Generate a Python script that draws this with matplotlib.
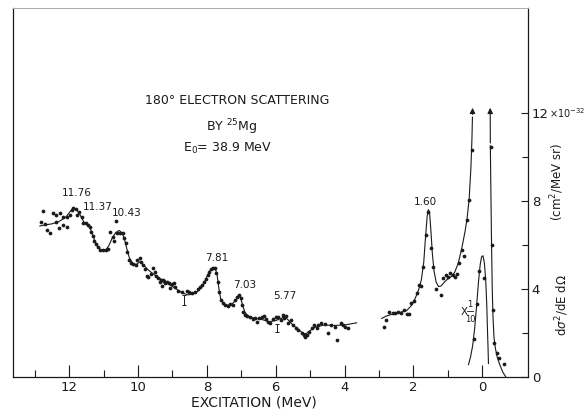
import matplotlib
matplotlib.use("Agg")
import matplotlib.pyplot as plt
from matplotlib.ticker import FixedLocator, FixedFormatter

plt.rcParams['font.family'] = ['DejaVu Sans']

# ---------------- data (E in MeV excitation, Y in 1e-32 cm^2/MeV sr) -------------
cont_E = [12.77, 12.82, 12.70, 12.64, 12.56, 12.46, 12.37, 12.39, 12.29, 12.27, 12.19, 12.17,
          12.06, 12.07, 11.98, 11.93, 11.88, 11.81, 11.78, 11.71, 11.64, 11.59, 11.51, 11.45,
          11.40, 11.37, 11.32, 11.28, 11.22, 11.16, 11.09, 11.01, 10.93, 10.87, 10.82, 10.74,
          10.70, 10.64, 10.60, 10.53, 10.45, 10.40, 10.35, 10.33, 10.26, 10.19, 10.14, 10.06,
          10.02, 9.94, 9.90, 9.85, 9.80, 9.75, 9.70, 9.63, 9.56, 9.51, 9.48, 9.41, 9.36, 9.28,
          9.22, 9.32, 9.25, 9.17, 9.29, 9.09, 9.02, 8.96, 8.93, 9.07, 8.83, 8.73, 8.59, 8.51,
          8.44, 8.35, 8.25, 8.20, 8.15, 8.09, 8.03, 7.98, 7.93, 7.88, 7.83, 7.77, 7.72, 7.67,
          7.64, 7.60, 7.54, 7.48, 7.38, 7.33, 7.25, 7.18, 7.12, 7.06, 7.02, 6.99, 6.94, 6.89,
          6.83, 6.75, 6.67, 6.60, 6.55, 6.48, 6.41, 6.34, 6.28, 6.22, 6.17, 6.07, 5.99, 5.93,
          5.86, 5.80, 5.76, 5.70, 5.64, 5.57, 5.49, 5.41, 5.35, 5.25, 5.18, 5.10, 5.15, 5.03,
          4.96, 4.89, 4.81, 4.76, 4.67, 4.57, 4.47, 4.38, 4.28, 4.21, 4.11, 4.04, 3.99, 3.89]
cont_Y = [7.53, 7.05, 6.93, 6.67, 6.55, 7.43, 7.35, 7.05, 6.75, 7.43, 7.27, 6.90,
          6.82, 7.27, 7.35, 7.58, 7.68, 7.61, 7.35, 7.50, 7.27, 7.00, 6.97, 6.90,
          6.82, 6.59, 6.40, 6.18, 6.03, 5.88, 5.76, 5.76, 5.76, 5.82, 6.58, 6.36,
          6.18, 7.08, 6.52, 6.55, 6.52, 6.29, 6.06, 5.68, 5.30, 5.18, 5.12, 5.08,
          5.30, 5.38, 5.23, 5.08, 4.88, 4.58, 4.52, 4.67, 4.93, 4.77, 4.58, 4.47, 4.32, 4.40,
          4.25, 4.40, 4.35, 4.32, 4.12, 4.25, 4.21, 4.27, 4.09, 4.02, 3.91, 3.86, 3.91, 3.86,
          3.82, 3.86, 3.97, 4.09, 4.17, 4.32, 4.43, 4.62, 4.77, 4.88, 4.93, 4.93, 4.70, 4.32,
          3.86, 3.49, 3.34, 3.26, 3.21, 3.30, 3.26, 3.49, 3.61, 3.71, 3.56, 3.26, 2.95, 2.80,
          2.76, 2.73, 2.61, 2.65, 2.50, 2.65, 2.73, 2.76, 2.61, 2.50, 2.45, 2.61, 2.70, 2.70,
          2.58, 2.80, 2.68, 2.76, 2.42, 2.58, 2.35, 2.20, 2.12, 1.97, 1.89, 1.89, 1.82, 2.05,
          2.20, 2.35, 2.20, 2.35, 2.42, 2.39, 2.00, 2.35, 2.27, 1.67, 2.42, 2.35, 2.27, 2.20]

low_E = [2.86, 2.80, 2.70, 2.60, 2.54, 2.44, 2.37, 2.27, 2.20, 2.12, 2.07, 1.98, 1.91, 1.83,
         1.78, 1.71, 1.64, 1.57, 1.50, 1.42, 1.35, 1.21, 1.13, 1.05, 0.99, 0.94, 0.86, 0.79,
         0.74, 0.67, 0.60, 0.52, 0.44, 0.38, 0.31]
low_Y = [2.27, 2.58, 2.95, 2.88, 2.91, 2.95, 2.88, 3.03, 2.85, 2.85, 3.36, 3.45, 3.79, 4.17,
         4.12, 5.00, 6.44, 7.50, 5.83, 5.00, 3.97, 3.71, 4.47, 4.62, 4.55, 4.73, 4.62, 4.55,
         4.67, 5.15, 5.76, 5.48, 7.12, 8.03, 10.30]

small_E = [0.24, 0.16, 0.09, -0.06]
small_Y = [1.70, 3.30, 4.80, 4.50]

elastic_E = [-0.25, -0.27, -0.30, -0.35, -0.42, -0.49, -0.63]
elastic_Y = [10.45, 6.00, 3.03, 1.52, 1.06, 0.83, 0.56]

# fitted curves
fit1_E = [12.85, 12.7, 12.5, 12.3, 12.1, 11.95, 11.87, 11.78, 11.68, 11.58, 11.48, 11.40,
          11.33, 11.25, 11.15, 11.05, 10.93, 10.85, 10.75, 10.65, 10.55, 10.47, 10.40, 10.33,
          10.25, 10.15, 10.05, 9.95, 9.85, 9.7, 9.5, 9.3, 9.1, 8.9, 8.7, 8.55, 8.4, 8.25, 8.1,
          8.0, 7.9, 7.82, 7.75, 7.7, 7.65, 7.6, 7.5, 7.38, 7.27, 7.15, 7.08, 7.02, 6.97, 6.9,
          6.8, 6.6, 6.4, 6.2, 6.0, 5.85, 5.75, 5.65, 5.5, 5.35, 5.2, 5.12, 5.0, 4.85, 4.6, 4.3,
          4.0, 3.65]
fit1_Y = [6.85, 6.90, 6.95, 7.05, 7.25, 7.55, 7.68, 7.60, 7.35, 7.05, 6.90, 6.80,
          6.50, 6.15, 5.85, 5.75, 5.78, 5.95, 6.30, 6.55, 6.65, 6.55, 6.30, 5.85,
          5.40, 5.15, 5.10, 5.22, 5.10, 4.85, 4.60, 4.40, 4.20, 4.00, 3.80, 3.72, 3.75, 3.90, 4.20,
          4.55, 4.85, 4.97, 4.90, 4.60, 4.00, 3.55, 3.30, 3.25, 3.30, 3.50, 3.65, 3.60, 3.30, 2.95,
          2.75, 2.65, 2.60, 2.50, 2.55, 2.65, 2.72, 2.60, 2.35, 2.15, 1.97, 1.95, 2.10, 2.25, 2.35, 2.33,
          2.35, 2.45]

fit2_E = [2.92, 2.8, 2.6, 2.4, 2.2, 2.05, 1.95, 1.85, 1.77, 1.70, 1.65, 1.60, 1.565, 1.53,
          1.49, 1.45, 1.40, 1.34, 1.27, 1.2, 1.1, 1.0, 0.9, 0.8, 0.7, 0.6, 0.5, 0.44, 0.38,
          0.33, 0.30, 0.285]
fit2_Y = [2.65, 2.75, 2.85, 2.92, 3.00, 3.25, 3.55, 3.95, 4.40, 5.20, 6.30, 7.30, 7.60, 7.45,
          6.60, 5.60, 4.80, 4.30, 4.10, 4.12, 4.30, 4.45, 4.55, 4.75, 5.15, 5.80, 6.60, 7.20, 8.10,
          9.50, 10.80, 11.80]
arrow1 = (0.28, 12.35)

small_fit_E = [0.40, 0.34, 0.28, 0.22, 0.16, 0.11, 0.06, 0.02, -0.02, -0.06, -0.10, -0.13,
               -0.15, -0.17, -0.18]
small_fit_Y = [0.55, 0.90, 1.40, 2.20, 3.30, 4.30, 5.10, 5.45, 5.50, 5.20, 4.40, 3.30,
               2.20, 1.20, 0.60]

elastic_fit_E = [-0.235, -0.25, -0.27, -0.29, -0.31, -0.34, -0.38, -0.44, -0.52, -0.60, -0.68]
elastic_fit_Y = [10.5, 8.5, 6.0, 4.0, 2.8, 1.8, 1.3, 0.85, 0.5, 0.2, 0.0]
arrow2 = (-0.23, 12.35)

err_E = [8.66, 5.97]
err_Y = [3.50, 2.22]
err_d = [0.22, 0.17]

peak_labels = ["11.76", "11.37", "10.43", "7.81", "7.03", "5.77", "1.60"]
peak_label_E = [11.79, 11.16, 10.33, 7.72, 6.89, 5.73, 1.66]
peak_label_Y = [8.34, 7.70, 7.43, 5.38, 4.17, 3.67, 7.95]

x_major = [0, 2, 4, 6, 8, 10, 12]
x_minor = [1, 3, 5, 7, 9, 11, 13]
y_major = [0, 4, 8, 12]
y_major_labels = ["0", "4", "8", "12"]
y_minor = [2, 6, 10]

# ---------------- figure -------------
ink = "#1a1a1a"
W, H = 587, 411
fig = plt.figure(figsize=(W / 100, H / 100), dpi=100)
ax = fig.add_axes([12.7 / W, 34.3 / H, 515.0 / W, 368.4 / H])
ax.set_xlim(13.64, -1.32)
ax.set_ylim(0, 16.75)

lw = 0.8
ax.plot(fit1_E, fit1_Y, color=ink, lw=lw)
ax.plot(fit2_E, fit2_Y, color=ink, lw=lw)
ax.plot(small_fit_E, small_fit_Y, color=ink, lw=lw)
ax.plot(elastic_fit_E, elastic_fit_Y, color=ink, lw=lw)
ax.annotate("", xy=arrow1, xytext=(fit2_E[-1], fit2_Y[-1]),
            arrowprops=dict(arrowstyle="-|>", color=ink, lw=lw, mutation_scale=8))
ax.annotate("", xy=arrow2, xytext=(elastic_fit_E[0], elastic_fit_Y[0]),
            arrowprops=dict(arrowstyle="-|>", color=ink, lw=lw, mutation_scale=8))

ms = 2.7
for E, Y in [(cont_E, cont_Y), (low_E, low_Y), (small_E, small_Y), (elastic_E, elastic_Y)]:
    ax.plot(E, Y, 'o', color=ink, ms=ms, mew=0, ls='none')

ax.errorbar(err_E, err_Y, yerr=err_d, fmt='none', ecolor=ink, elinewidth=0.7, capsize=1.5,
            capthick=0.7)

for t, e, y in zip(peak_labels, peak_label_E, peak_label_Y):
    ax.text(e, y, t, ha='center', va='center', fontsize=7.5, color=ink)

ax.text(0.52, 2.95, "X", ha='center', va='center', fontsize=7.5, color=ink)
ax.text(0.36, 3.3, "1", ha='center', va='center', fontsize=6, color=ink)
ax.plot([0.45, 0.26], [2.98, 2.98], color=ink, lw=0.6)
ax.text(0.355, 2.6, "10", ha='center', va='center', fontsize=6, color=ink)

# spines & ticks
for s in ['left', 'bottom', 'right']:
    ax.spines[s].set_color(ink)
    ax.spines[s].set_linewidth(0.9)
ax.spines['top'].set_color('#aaaaaa')
ax.spines['top'].set_linewidth(0.7)

ax.xaxis.set_major_locator(FixedLocator(x_major))
ax.xaxis.set_minor_locator(FixedLocator(x_minor))
ax.tick_params(axis='x', which='major', direction='in', length=8.5, width=0.8, color=ink,
               labelsize=9.5, pad=3, labelcolor=ink, top=False)
ax.tick_params(axis='x', which='minor', direction='in', length=5, width=0.8, color=ink, top=False)

ax.yaxis.tick_right()
ax.yaxis.set_major_locator(FixedLocator(y_major))
ax.yaxis.set_major_formatter(FixedFormatter(y_major_labels))
ax.yaxis.set_minor_locator(FixedLocator(y_minor))
ax.tick_params(axis='y', which='major', direction='in', length=5, width=0.8, color=ink,
               labelsize=9.5, pad=3, labelcolor=ink, left=False, right=True)
ax.tick_params(axis='y', which='minor', direction='in', length=4, width=0.8, color=ink,
               left=False, right=True)

ax.set_xlabel("EXCITATION (MeV)", fontsize=10, color=ink)
ax.xaxis.set_label_coords((254 - 12.7) / 515.0, -(402 - 376.7) / 368.4)
ax.xaxis.label.set_va('center')

fig.text(549 / W, 1 - 113 / H, "\u00d710$^{-32}$", ha='left', va='center', fontsize=7,
         color=ink)
fig.text(557 / W, 1 - 182 / H, "(cm$^2$/MeV sr)", rotation=90, ha='center', va='center',
         fontsize=8.5, color=ink)
fig.text(562 / W, 1 - 305 / H, "d$\\sigma^2$/dE d$\\Omega$", rotation=90, ha='center',
         va='center', fontsize=8.5, color=ink)

fig.text(237 / W, 1 - 100 / H, "180\u00b0 ELECTRON SCATTERING", ha='center', va='center',
         fontsize=9, color=ink)
fig.text(232 / W, 1 - 127 / H, "BY $^{25}$Mg", ha='center', va='center', fontsize=9, color=ink)
fig.text(228 / W, 1 - 148 / H, "E$_0$= 38.9 MeV", ha='center', va='center', fontsize=9, color=ink)

fig.savefig("out.png", dpi=100)
